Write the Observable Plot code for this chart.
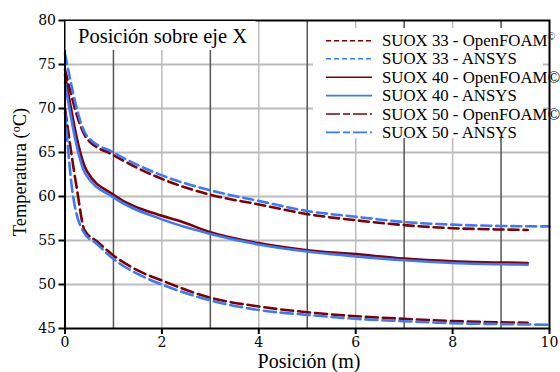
<!DOCTYPE html>
<html><head><meta charset="utf-8">
<script src="https://cdn.jsdelivr.net/npm/d3@7"></script>
<script src="https://cdn.jsdelivr.net/npm/@observablehq/plot@0.6"></script>
</head><body style="margin:0">
<div id="chart"></div>
<script>
// ---- data ----
const xTicks = [0, 2, 4, 6, 8, 10];
const yTicks = [45, 50, 55, 60, 65, 70, 75, 80];
const xGrid = [1, 2, 3, 4, 5, 6, 7, 8, 9];
const yGrid = [50, 55, 60, 65, 70, 75];

const seriesNames = ["SUOX 33 - OpenFOAM©", "SUOX 33 - ANSYS", "SUOX 40 - OpenFOAM©", "SUOX 40 - ANSYS", "SUOX 50 - OpenFOAM©", "SUOX 50 - ANSYS"];

const suox33OpenX = [0, 0.45, 1, 2, 3, 4, 5, 6, 7, 8, 9, 9.55];
const suox33OpenY = [74.4, 66.6, 64.7, 62.0, 60.2, 59.1, 58.0, 57.3, 56.75, 56.4, 56.25, 56.2];
const suox33AnsysX = [0, 0.45, 1, 2, 3, 4, 5, 6, 7, 8, 9, 10];
const suox33AnsysY = [76.2, 66.9, 65.0, 62.4, 60.7, 59.5, 58.35, 57.7, 57.1, 56.8, 56.65, 56.6];

const suox40OpenX = [0, 0.45, 1, 2, 2.35, 3, 4, 5, 6, 7, 8, 9, 9.55];
const suox40OpenY = [73.8, 62.9, 60.2, 57.8, 57.25, 55.95, 54.7, 53.9, 53.45, 52.95, 52.65, 52.5, 52.45];
const suox40AnsysX = [0, 0.42, 1, 2, 3, 4, 5, 6, 7, 8, 9, 9.55];
const suox40AnsysY = [72.9, 62.6, 59.9, 57.4, 55.75, 54.55, 53.75, 53.2, 52.75, 52.45, 52.3, 52.25];

const suox50OpenX = [0, 0.25, 0.4, 0.66, 1, 1.5, 2, 3, 4, 5, 6, 7, 8, 9, 9.55];
const suox50OpenY = [70.0, 60.7, 56.2, 54.9, 53.3, 51.6, 50.45, 48.5, 47.5, 46.85, 46.4, 46.1, 45.85, 45.7, 45.65];
const suox50AnsysX = [0, 0.15, 0.38, 0.66, 1, 1.5, 2, 3, 4, 5, 6, 7, 8, 9, 10];
const suox50AnsysY = [69.6, 60.7, 56.0, 54.6, 52.9, 51.2, 50.0, 48.2, 47.1, 46.55, 46.1, 45.83, 45.6, 45.5, 45.42];

// ---- build table ----
const seriesXs = [suox33OpenX, suox33AnsysX, suox40OpenX, suox40AnsysX, suox50OpenX, suox50AnsysX];
const seriesYs = [suox33OpenY, suox33AnsysY, suox40OpenY, suox40AnsysY, suox50OpenY, suox50AnsysY];
const rows = [];
seriesNames.forEach((name, i) => seriesXs[i].forEach((x, j) => rows.push({series: name, x, y: seriesYs[i][j]})));

const RED = "#800000", BLUE = "#3a78ff";
const lineStyles = {
  "SUOX 33 - OpenFOAM©": {stroke: RED, dash: "10,5", legendDash: "5,3"},
  "SUOX 33 - ANSYS": {stroke: BLUE, dash: "10,5", legendDash: "5,3"},
  "SUOX 40 - OpenFOAM©": {stroke: RED, dash: null, legendDash: null},
  "SUOX 40 - ANSYS": {stroke: BLUE, dash: null, legendDash: null},
  "SUOX 50 - OpenFOAM©": {stroke: RED, dash: "12,5", legendDash: "14,3,7,3"},
  "SUOX 50 - ANSYS": {stroke: BLUE, dash: "12,5", legendDash: "14,3,7,3"}
};

const SERIF = "'Liberation Serif', serif";
const TICKSERIF = "'DejaVu Serif', serif";

const plot = Plot.plot({
  width: 560, height: 372,
  marginLeft: 64.5, marginRight: 11, marginTop: 20, marginBottom: 44,
  x: {domain: [0, 10]},
  y: {domain: [45, 80]},
  style: {fontFamily: TICKSERIF, fontSize: "14px"},
  marks: [
    Plot.ruleY(yGrid, {stroke: "#bbb", strokeWidth: 2}),
    Plot.ruleX(xGrid, {stroke: d => d % 2 ? "#555" : "#bbb", strokeWidth: 1.5}),
    ...seriesNames.map(name => Plot.line(rows.filter(r => r.series === name), {
      x: "x", y: "y", stroke: lineStyles[name].stroke, strokeWidth: 2.6,
      strokeDasharray: lineStyles[name].dash, curve: "monotone-x"
    })),
    Plot.frame({stroke: "#000", strokeWidth: 2}),
    Plot.axisX({ticks: xTicks, tickFormat: d => d, tickSize: 6, tickPadding: 3, strokeWidth: 2, label: null}),
    Plot.axisY({ticks: yTicks, tickFormat: d => d, tickSize: 6, tickPadding: 3, strokeWidth: 2, label: null})
  ]
});

document.getElementById("chart").appendChild(plot);
const svg = d3.select(plot);
svg.selectAll("text").attr("font-family", "DejaVu Serif").style("font-family", TICKSERIF).style("font-size", "14px");

const overlay = svg.append("g");
function addText(sel, size) {
  return sel.append("text").attr("text-anchor", "start").attr("fill", "#000")
    .attr("font-family", "Liberation Serif").attr("font-size", size)
    .style("font-family", SERIF).style("font-size", size + "px");
}

// title box
overlay.append("rect").attr("x", 65.5).attr("y", 21).attr("width", 190).attr("height", 29).attr("fill", "#fff");
addText(overlay, 20.5).attr("x", 78).attr("y", 43).text("Posición sobre eje X");

// axis labels
addText(overlay, 20).attr("x", 309).attr("y", 368).attr("text-anchor", "middle").text("Posición (m)");
const yl = addText(overlay, 18.5).attr("transform", "translate(26,172) rotate(-90)").attr("text-anchor", "middle");
yl.append("tspan").text("Temperatura (");
yl.append("tspan").style("font-size", "12px").attr("dy", -6).text("o");
yl.append("tspan").attr("dy", 6).text("C)");

// legend
const lg = overlay.append("g");
lg.append("rect").attr("x", 313).attr("y", 28).attr("width", 230).attr("height", 110).attr("fill", "#fff");
const rowY = [40.7, 58.8, 77.2, 95.6, 114, 132.4];
seriesNames.forEach((name, i) => {
  lg.append("line").attr("x1", 326).attr("x2", 372).attr("y1", rowY[i]).attr("y2", rowY[i])
    .attr("stroke", lineStyles[name].stroke).attr("stroke-width", 1.6)
    .attr("stroke-dasharray", lineStyles[name].legendDash);
  const t = addText(lg, 16.8).attr("x", 382).attr("y", rowY[i] + 5.5);
  if (i === 0) {
    t.append("tspan").text("SUOX 33 - OpenFOAM");
    t.append("tspan").style("font-size", "10px").attr("dy", -6).text("©");
  } else {
    t.text(name);
  }
});
</script></body></html>
